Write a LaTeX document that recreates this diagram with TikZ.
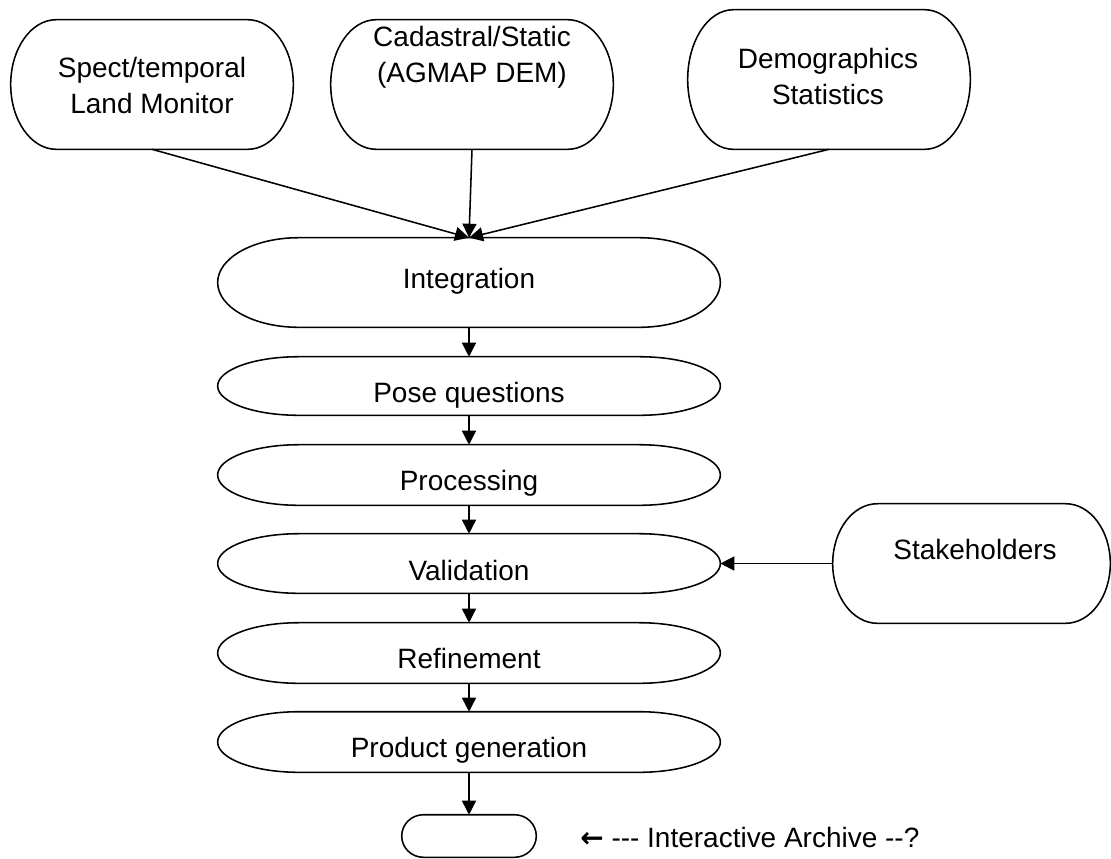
\documentclass[tikz,border=0pt]{standalone}
\usepackage{fontspec}
\setmainfont{Liberation Sans}
\newfontfamily\arrowfont{DejaVu Sans}
\usetikzlibrary{arrows.meta,calc}
\tikzset{%
  terminal/.style={rectangle, draw=none, inner sep=0pt},% outline drawn by \termoutline
  flowText/.style={font=\fontsize{19.9}{25.6}\selectfont, align=center, inner sep=0pt},
  outline/.style={draw=black, line width=1.1pt},
  flowArrow/.style={-{Triangle[length=0.35cm,width=0.35cm]}, line width=1.1pt}
}
% terminator outline with elliptic ends round a named node
\newcommand{\termoutline}[1]{%
  \draw[outline] let \p1=(#1.north west), \p2=(#1.south east),
    \n1={0.161*(\x2-\x1)}, \n2={(\y1-\y2)/2} in
    (\x1+\n1,\y1) -- (\x2-\n1,\y1)
    arc[start angle=90, end angle=-90, x radius=\n1, y radius=\n2]
    -- (\x1+\n1,\y2)
    arc[start angle=270, end angle=90, x radius=\n1, y radius=\n2] -- cycle;}

\begin{document}
\begin{tikzpicture}[x=0.025cm, y=-0.025cm]
    \useasboundingbox (0,0) rectangle (1111,858);

    % sources
    \node[terminal, minimum width=7.05cm, minimum height=3.225cm] (spect) at (152,84.5) {};
    \node[terminal, minimum width=7.05cm, minimum height=3.225cm] (cadastral) at (472,84.5) {};
    \node[terminal, minimum width=7.05cm, minimum height=3.475cm] (demog) at (829,79.5) {};
    \node[terminal, minimum width=6.925cm, minimum height=2.975cm] (stake) at (971.5,563.5) {};

    % flow
    \node[terminal, minimum width=12.55cm, minimum height=2.225cm] (integ) at (469,282.5) {};
    \node[terminal, minimum width=12.55cm, minimum height=1.45cm] (pose) at (469,386) {};
    \node[terminal, minimum width=12.55cm, minimum height=1.5cm] (proc) at (469,475) {};
    \node[terminal, minimum width=12.55cm, minimum height=1.475cm] (valid) at (469,563.5) {};
    \node[terminal, minimum width=12.55cm, minimum height=1.5cm] (refine) at (469,653) {};
    \node[terminal, minimum width=12.55cm, minimum height=1.5cm] (product) at (469,742) {};
    \node[terminal, minimum width=3.35cm, minimum height=1.05cm] (archive) at (469,836) {};

    \foreach \nd in {spect,cadastral,demog,stake,integ,pose,proc,valid,refine,product,archive}
      \termoutline{\nd};

    \node[flowText] (spectT) at (152,85) {Spect/temporal\\Land Monitor};
    \node[flowText] (cadastralT) at (472,57) {Cadastral/Static\\(AGMAP DEM)};
    \node[flowText] (demogT) at (828,76.5) {Demographics\\Statistics};
    \node[flowText, anchor=base] (stakeT) at (975,559) {Stakeholders};
    \node[flowText, anchor=base] (integT) at (469,288) {Integration};
    \node[flowText, anchor=base] (poseT) at (469,402) {Pose questions};
    \node[flowText, anchor=base] (procT) at (469,490) {Processing};
    \node[flowText, anchor=base] (validT) at (469,580) {Validation};
    \node[flowText, anchor=base] (refineT) at (469,668) {Refinement};
    \node[flowText, anchor=base] (productT) at (469,757) {Product generation};
    \node[flowText, anchor=base west] (archiveT) at (580,847) {{\arrowfont\bfseries ←} {-}{-}{-} Interactive Archive {-}{-}?};

    \draw[flowArrow] (spect.south) -- (integ.north);
    \draw[flowArrow] (cadastral.south) -- (integ.north);
    \draw[flowArrow] (demog.south) -- (integ.north);

    \foreach \a/\b in {integ/pose, pose/proc, proc/valid, valid/refine, refine/product, product/archive}
      \draw[flowArrow] (\a.south) -- (\b.north);

    \draw[flowArrow] (stake.west) -- (valid.east);
\end{tikzpicture}
\end{document}
